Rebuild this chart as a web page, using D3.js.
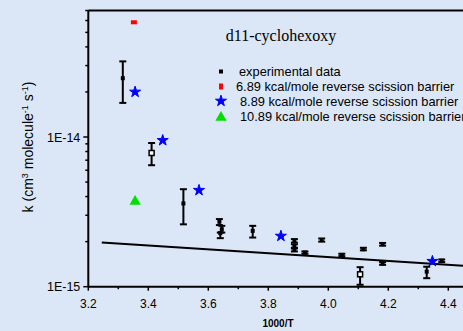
<!DOCTYPE html>
<html><head><meta charset="utf-8">
<script src="https://cdn.jsdelivr.net/npm/d3@7"></script>
<style>
html,body{margin:0;padding:0;background:#dbe7f6;}
svg{display:block;}
</style></head>
<body>
<svg id="c" width="463" height="331"></svg>
<script>
// Experimental data: 1000/T, k, error low, error high
const expX  = [3.315, 3.411, 3.517, 3.637, 3.645, 3.640, 3.748, 3.887, 3.887, 3.887, 3.922, 3.978, 4.045, 4.106, 4.117, 4.181, 4.181, 4.328, 4.378];
const expK  = [2.47e-14, 7.82e-15, 3.6e-15, 2.72e-15, 2.42e-15, 2.28e-15, 2.36e-15, 2.02e-15, 1.87e-15, 1.76e-15, 1.69e-15, 2.05e-15, 1.63e-15, 1.21e-15, 1.78e-15, 1.92e-15, 1.43e-15, 1.26e-15, 1.49e-15];
const expLo = [1.69e-14, 6.48e-15, 2.61e-15, 2.58e-15, 2.30e-15, 2.11e-15, 2.13e-15, 1.97e-15, 1.82e-15, 1.72e-15, 1.66e-15, 2.00e-15, 1.60e-15, 1.03e-15, 1.75e-15, 1.88e-15, 1.40e-15, 1.14e-15, 1.46e-15];
const expHi = [3.2e-14, 9.12e-15, 4.48e-15, 2.83e-15, 2.55e-15, 2.30e-15, 2.55e-15, 2.08e-15, 1.92e-15, 1.80e-15, 1.72e-15, 2.10e-15, 1.66e-15, 1.35e-15, 1.82e-15, 1.96e-15, 1.46e-15, 1.36e-15, 1.52e-15];
const hollow = [false, true, false, false, false, false, false, false, false, false, false, false, false, true, false, false, false, false, false];
// Model predictions
const redX = [3.352], redK = [5.84e-14];
const blueX = [3.356, 3.448, 3.569, 3.842, 4.347];
const blueK = [2.0e-14, 9.5e-15, 4.41e-15, 2.18e-15, 1.48e-15];
const greenX = [3.356], greenK = [3.74e-15];
// Fitted line
const lineX = [3.245, 4.6];
const lineK = [1.97e-15, 1.32e-15];
// Ticks
const xTicks = [3.2, 3.4, 3.6, 3.8, 4.0, 4.2, 4.4];
const xMinor = [3.3, 3.5, 3.7, 3.9, 4.1, 4.3, 4.5];
const yTicks = [1e-15, 1e-14];
const yTickLabels = ["1E-15", "1E-14"];
const yMinor = [2e-15,3e-15,4e-15,5e-15,6e-15,7e-15,8e-15,9e-15,2e-14,3e-14,4e-14,5e-14,6e-14,7e-14];
const legendLabels = ["experimental data", "6.89 kcal/mole reverse scission barrier", "8.89 kcal/mole reverse scission barrier", "10.89 kcal/mole reverse scission barrier"];

const svg = d3.select("#c");
const L = 88.3, T = 10.5, B = 286.7;
const x = d3.scaleLinear().domain([3.2, 4.6]).range([L, L + 1.4*300]);
const y = d3.scaleLog().domain([1e-15, 7e-14]).range([B, T]);

svg.append("rect").attr("width",463).attr("height",331).attr("fill","#dbe7f6");

// axes
const ax = svg.append("g").attr("stroke","#000");
ax.append("line").attr("x1",L).attr("x2",463).attr("y1",B).attr("y2",B).attr("stroke-width",2);
ax.append("line").attr("x1",L).attr("x2",463).attr("y1",T).attr("y2",T).attr("stroke-width",2);
ax.append("line").attr("x1",L).attr("x2",L).attr("y1",T).attr("y2",B).attr("stroke-width",2);
xTicks.forEach(v=>ax.append("line").attr("x1",x(v)).attr("x2",x(v)).attr("y1",B).attr("y2",B+4).attr("stroke-width",1.5));
xMinor.forEach(v=>ax.append("line").attr("x1",x(v)).attr("x2",x(v)).attr("y1",B).attr("y2",B+2.5).attr("stroke-width",1.5));
yTicks.forEach(v=>ax.append("line").attr("x1",L-5).attr("x2",L).attr("y1",y(v)).attr("y2",y(v)).attr("stroke-width",1.5));
yMinor.forEach(v=>ax.append("line").attr("x1",L-3).attr("x2",L).attr("y1",y(v)).attr("y2",y(v)).attr("stroke-width",1.5));

const font = "Liberation Sans, Arial, sans-serif";
xTicks.forEach(v=>svg.append("text").attr("x",x(v)).attr("y",B+21).attr("text-anchor","middle")
  .attr("font-family",font).attr("font-size",12).text(v.toFixed(1)));
yTicks.forEach((v,i)=>svg.append("text").attr("x",L-8).attr("y",y(v)+4.5).attr("text-anchor","end")
  .attr("font-family",font).attr("font-size",12.5).text(yTickLabels[i]));

// axis titles
svg.append("text").attr("x",278).attr("y",327).attr("text-anchor","middle").attr("font-family",font)
  .attr("font-size",10).attr("font-weight","bold").text("1000/T");
const yt = svg.append("text").attr("transform","translate(33,147) rotate(-90)").attr("text-anchor","middle")
  .attr("font-family",font).attr("font-size",14);
yt.append("tspan").text("k (cm");
yt.append("tspan").attr("font-size",9).attr("dy",-5).text("3");
yt.append("tspan").attr("dy",5).text(" molecule");
yt.append("tspan").attr("font-size",9).attr("dy",-5).text("-1");
yt.append("tspan").attr("dy",5).text(" s");
yt.append("tspan").attr("font-size",9).attr("dy",-5).text("-1");
yt.append("tspan").attr("dy",5).text(")");

// title
svg.append("text").attr("x",281).attr("y",41).attr("text-anchor","middle")
  .attr("font-family","Liberation Serif, Times New Roman, serif").attr("font-size",16).text("d11-cyclohexoxy");

// fitted line
svg.append("path").datum(lineX.map((v,i)=>[v,lineK[i]]))
  .attr("d", d3.line().x(d=>x(d[0])).y(d=>y(d[1])))
  .attr("stroke","#000").attr("stroke-width",2).attr("fill","none");

// error bars + points
const g = svg.append("g");
expX.forEach((v,i)=>{
  const cx = x(v);
  g.append("line").attr("x1",cx).attr("x2",cx).attr("y1",y(expLo[i])).attr("y2",y(expHi[i])).attr("stroke","#000").attr("stroke-width",2);
  [expLo[i],expHi[i]].forEach(e=>g.append("line").attr("x1",cx-3.5).attr("x2",cx+3.5).attr("y1",y(e)).attr("y2",y(e)).attr("stroke","#000").attr("stroke-width",2));
  if (hollow[i]) {
    g.append("rect").attr("x",cx-2.5).attr("y",y(expK[i])-2.5).attr("width",5).attr("height",5).attr("fill","#fff").attr("stroke","#000").attr("stroke-width",1.5);
  } else {
    g.append("rect").attr("x",cx-2).attr("y",y(expK[i])-2).attr("width",4).attr("height",4).attr("fill","#000");
  }
});

const star = d3.symbol().type(d3.symbolStar).size(38);
const tri = d3.symbol().type(d3.symbolTriangle).size(55);
redX.forEach((v,i)=>svg.append("rect").attr("x",x(v)-3).attr("y",y(redK[i])-2).attr("width",6).attr("height",4).attr("fill","#ff0000"));
blueX.forEach((v,i)=>svg.append("path").attr("d",star).attr("transform",`translate(${x(v)},${y(blueK[i])})`).attr("fill","#0000ff").attr("stroke","#0000ff").attr("stroke-width",1).attr("stroke-linejoin","round"));
greenX.forEach((v,i)=>svg.append("path").attr("d",tri).attr("transform",`translate(${x(v)},${y(greenK[i])+0.5})`).attr("fill","#00e000"));

// legend
const ly = [71.5, 86.5, 101, 116.5];
const lx = 221;
const lg = svg.append("g");
lg.append("rect").attr("x",lx-2).attr("y",ly[0]-2).attr("width",4).attr("height",4).attr("fill","#000");
lg.append("rect").attr("x",lx-2).attr("y",ly[1]-3).attr("width",4).attr("height",6).attr("fill","#ff0000");
lg.append("path").attr("d",star).attr("transform",`translate(${lx},${ly[2]})`).attr("fill","#0000ff").attr("stroke","#0000ff").attr("stroke-width",1).attr("stroke-linejoin","round");
lg.append("path").attr("d",tri).attr("transform",`translate(${lx},${ly[3]+1})`).attr("fill","#00e000");
const ltx = [239, 236, 240, 240];
legendLabels.forEach((t,i)=>lg.append("text").attr("x",ltx[i]).attr("y",ly[i]+4.5).attr("font-family",font)
  .attr("font-size",12.8).text(t));
</script>
</body></html>
